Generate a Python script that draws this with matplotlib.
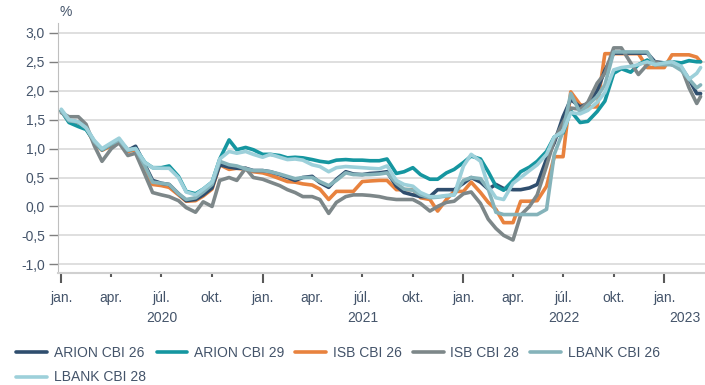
import matplotlib
matplotlib.use("Agg")
import matplotlib.pyplot as plt
import pandas as pd
import numpy as np
from matplotlib.ticker import FuncFormatter

plt.rcParams['font.family'] = ['Liberation Sans', 'DejaVu Sans']

# semi-monthly observations, Jan 2020 - Mar 2023 (yield, %)
dates = list(pd.date_range('2020-01-01', '2023-03-01', freq='SMS')) + [pd.Timestamp('2023-03-08')]

arion_cbi_26 = [
    1.65, 1.48, 1.46, 1.36, 1.12, 0.98, 1.08, 1.15, 0.97, 1.04,
    0.72, 0.45, 0.40, 0.38, 0.22, 0.10, 0.12, 0.20, 0.32, 0.72,
    0.68, 0.66, 0.66, 0.62, 0.62, 0.60, 0.55, 0.50, 0.45, 0.50,
    0.52, 0.41, 0.33, 0.47, 0.60, 0.56, 0.55, 0.57, 0.58, 0.60,
    0.35, 0.24, 0.20, 0.17, 0.17, 0.29, 0.29, 0.29, 0.40, 0.50,
    0.42, 0.30, 0.38, 0.31, 0.29, 0.29, 0.32, 0.38, 0.82, 1.10,
    1.55, 1.85, 1.72, 1.78, 2.00, 2.35, 2.65, 2.65, 2.65, 2.65,
    2.65, 2.50, 2.48, 2.45, 2.40, 2.20, 1.95, 1.95,
]
arion_cbi_29 = [
    1.65, 1.45, 1.38, 1.33, 1.12, 0.98, 1.08, 1.15, 0.97, 1.00,
    0.76, 0.67, 0.67, 0.70, 0.52, 0.26, 0.22, 0.30, 0.42, 0.82,
    1.15, 0.98, 1.02, 0.98, 0.90, 0.90, 0.88, 0.84, 0.85, 0.84,
    0.81, 0.78, 0.76, 0.80, 0.81, 0.80, 0.80, 0.79, 0.79, 0.82,
    0.57, 0.60, 0.67, 0.55, 0.47, 0.47, 0.58, 0.64, 0.76, 0.87,
    0.82, 0.60, 0.35, 0.28, 0.45, 0.60, 0.68, 0.78, 0.95, 1.20,
    1.27, 1.65, 1.45, 1.47, 1.64, 1.82, 2.30, 2.38, 2.32, 2.45,
    2.53, 2.45, 2.48, 2.50, 2.48, 2.52, 2.50, 2.50,
]
isb_cbi_26 = [
    1.65, 1.48, 1.45, 1.35, 1.10, 0.97, 1.05, 1.12, 0.95, 0.98,
    0.63, 0.38, 0.36, 0.33, 0.20, 0.09, 0.10, 0.18, 0.30, 0.72,
    0.64, 0.66, 0.64, 0.60, 0.58, 0.54, 0.48, 0.43, 0.42, 0.39,
    0.37, 0.30, 0.12, 0.26, 0.26, 0.26, 0.43, 0.44, 0.45, 0.45,
    0.29, 0.29, 0.29, 0.15, 0.12, -0.08, 0.12, 0.26, 0.26, 0.42,
    0.24, 0.07, -0.05, -0.28, -0.28, 0.09, 0.09, 0.10, 0.35, 0.86,
    0.86, 1.98, 1.76, 1.72, 1.72, 2.64, 2.64, 2.64, 2.64, 2.64,
    2.40, 2.40, 2.40, 2.62, 2.62, 2.62, 2.58, 2.50,
]
isb_cbi_28 = [
    1.62, 1.55, 1.55, 1.42, 1.05, 0.78, 1.00, 1.10, 0.88, 0.92,
    0.55, 0.24, 0.20, 0.17, 0.10, -0.02, -0.10, 0.08, 0.00, 0.45,
    0.50, 0.45, 0.66, 0.50, 0.47, 0.42, 0.36, 0.29, 0.24, 0.17,
    0.17, 0.12, -0.12, 0.07, 0.17, 0.20, 0.20, 0.19, 0.17, 0.14,
    0.12, 0.12, 0.12, 0.05, -0.08, 0.00, 0.07, 0.09, 0.22, 0.25,
    0.05, -0.22, -0.38, -0.50, -0.58, -0.15, 0.00, 0.20, 0.70, 1.15,
    1.45, 1.70, 1.68, 1.80, 2.13, 2.30, 2.74, 2.74, 2.48, 2.28,
    2.45, 2.50, 2.45, 2.50, 2.40, 2.05, 1.78, 1.90,
]
lbank_cbi_26 = [
    1.65, 1.48, 1.46, 1.36, 1.12, 0.98, 1.08, 1.15, 0.97, 1.00,
    0.70, 0.42, 0.40, 0.38, 0.22, 0.12, 0.15, 0.25, 0.38, 0.78,
    0.72, 0.70, 0.65, 0.62, 0.62, 0.60, 0.56, 0.52, 0.48, 0.50,
    0.50, 0.43, 0.36, 0.45, 0.58, 0.55, 0.55, 0.55, 0.56, 0.58,
    0.40, 0.30, 0.28, 0.20, 0.15, 0.16, 0.18, 0.20, 0.45, 0.50,
    0.48, 0.30, -0.10, -0.14, -0.14, -0.14, -0.14, -0.14, -0.05, 0.90,
    1.30, 1.95, 1.62, 1.75, 1.90, 2.10, 2.67, 2.67, 2.67, 2.67,
    2.67, 2.45, 2.45, 2.45, 2.35, 2.20, 2.05, 2.10,
]
lbank_cbi_28 = [
    1.68, 1.50, 1.46, 1.36, 1.14, 1.00, 1.10, 1.18, 0.98, 1.00,
    0.76, 0.67, 0.66, 0.66, 0.50, 0.25, 0.20, 0.30, 0.42, 0.82,
    0.95, 0.92, 0.95, 0.90, 0.85, 0.90, 0.85, 0.81, 0.82, 0.80,
    0.72, 0.69, 0.60, 0.67, 0.69, 0.68, 0.67, 0.66, 0.65, 0.70,
    0.45, 0.38, 0.35, 0.24, 0.17, 0.17, 0.19, 0.20, 0.70, 0.90,
    0.78, 0.35, 0.15, 0.12, 0.40, 0.50, 0.62, 0.72, 0.90, 1.20,
    1.30, 1.62, 1.60, 1.66, 1.80, 1.97, 2.36, 2.40, 2.42, 2.45,
    2.50, 2.45, 2.48, 2.50, 2.42, 2.20, 2.30, 2.40,
]

# label, values, colour, zorder
series = [
    ("ARION CBI 26", arion_cbi_26, "#2f4e6e", 3),
    ("ARION CBI 29", arion_cbi_29, "#1596a0", 3),
    ("ISB CBI 26", isb_cbi_26, "#e8823e", 2),
    ("ISB CBI 28", isb_cbi_28, "#7d8789", 3),
    ("LBANK CBI 26", lbank_cbi_26, "#85b3ba", 3),
    ("LBANK CBI 28", lbank_cbi_28, "#9dd0da", 3),
]

text_color = "#44546a"

fig = plt.figure(figsize=(7.05, 3.85), dpi=100)
ax = fig.add_axes([58 / 705, 1 - 273 / 385, 647 / 705, 250 / 385])

handles = []
for label, vals, color, z in series:
    line, = ax.plot(dates, vals, color=color, lw=2.6, label=label, zorder=z,
                    solid_joinstyle='round', solid_capstyle='round')
    handles.append(line)

ax.set_ylim(-1.15, 3.17)
ax.set_yticks(np.arange(-1.0, 3.01, 0.5))
ax.yaxis.set_major_formatter(FuncFormatter(lambda v, p: f"{v:.1f}".replace('.', ',')))
ax.yaxis.grid(True, color='#d9d9d9', lw=1.2)
ax.set_axisbelow(True)

x_start, x_end = pd.Timestamp('2019-12-26'), pd.Timestamp('2023-03-16')
ax.set_xlim(x_start, x_end)
jan_ticks = [pd.Timestamp(f'{y}-01-01') for y in range(2020, 2024)]
qtr_ticks = [pd.Timestamp(f'{y}-{m:02d}-01') for y in range(2020, 2023) for m in (4, 7, 10)]
qtr_names = {4: 'apr.', 7: 'júl.', 10: 'okt.'}
ax.set_xticks(jan_ticks)
ax.set_xticklabels(['jan.'] * len(jan_ticks))
ax.set_xticks(qtr_ticks, minor=True)
ax.set_xticklabels([qtr_names[d.month] for d in qtr_ticks], minor=True)

ax.tick_params(axis='x', which='major', length=7, width=1.5, color='#595959',
               pad=6, labelsize=10, labelcolor=text_color)
ax.tick_params(axis='x', which='minor', length=3, width=1.5, color='#595959',
               pad=10, labelsize=10, labelcolor=text_color)
ax.tick_params(axis='y', length=6.5, width=1, color='#7f7f7f', pad=3,
               labelsize=10, labelcolor=text_color)

# year labels centred on the visible part of each year
for y in range(2020, 2024):
    a = max(pd.Timestamp(f'{y}-01-01'), x_start)
    b = min(pd.Timestamp(f'{y + 1}-01-01'), x_end)
    mid = a + (b - a) / 2
    ax.text(mid, -0.18, str(y), transform=ax.get_xaxis_transform(),
            ha='center', va='center', fontsize=10, color=text_color)

for side in ('top', 'right'):
    ax.spines[side].set_visible(False)
ax.spines['left'].set_color('#bfbfbf')
ax.spines['bottom'].set_color('#d0d0d0')
ax.spines['bottom'].set_linewidth(1.5)

fig.text(59 / 705, 1 - 12 / 385, '%', ha='left', va='center', fontsize=10, color=text_color)

# legend fills column by column; reorder so entries read across two rows
order = [0, 5, 1, 2, 3, 4]
fig.legend([handles[i] for i in order], [handles[i].get_label() for i in order],
           loc='upper left', bbox_to_anchor=(16 / 705, 1 - 346 / 385), ncol=5,
           frameon=False, fontsize=10, handlelength=2.2, handletextpad=0.5,
           columnspacing=0.8, labelspacing=0.75, borderpad=0, borderaxespad=0,
           labelcolor=text_color)

fig.savefig('out.png', dpi=100)
